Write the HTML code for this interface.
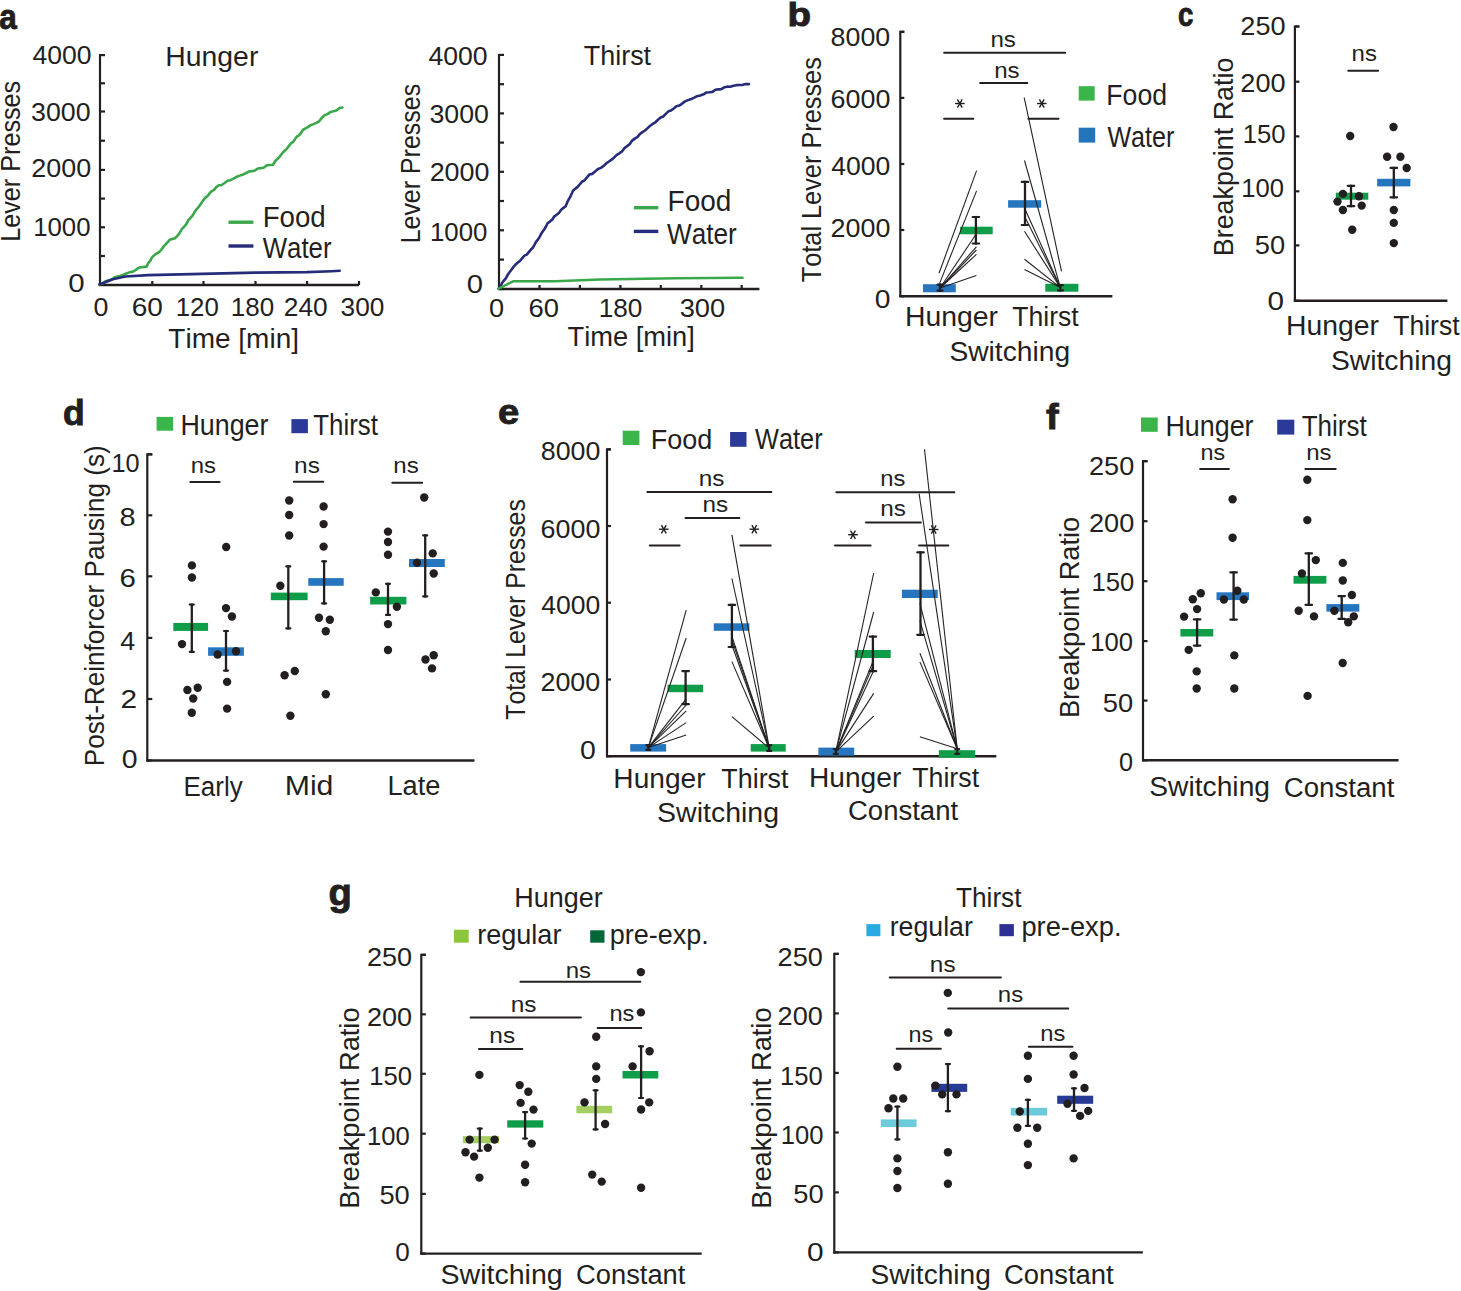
<!DOCTYPE html>
<html><head><meta charset="utf-8"><title>Figure</title>
<style>html,body{margin:0;padding:0;background:#fff;overflow:hidden;width:1461px;height:1291px;}svg{display:block;}text{font-family:"Liberation Sans",sans-serif;font-kerning:none;}</style>
</head><body>
<svg width="1461" height="1291" viewBox="0 0 1461 1291">
<rect width="1461" height="1291" fill="#fff"/>
<text x="-0.72" y="28.50" font-size="34.5" font-weight="bold" stroke="#231f20" stroke-width="0.9" fill="#231f20" textLength="17.52" lengthAdjust="spacingAndGlyphs">a</text>
<path d="M105.00,55.00 L100.00,55.00 L100.00,286.00" fill="none" stroke="#231f20" stroke-width="2.2"/>
<line x1="100.00" y1="55.10" x2="105.00" y2="55.10" stroke="#231f20" stroke-width="2.2" stroke-linecap="butt"/>
<line x1="100.00" y1="83.30" x2="105.00" y2="83.30" stroke="#231f20" stroke-width="2.2" stroke-linecap="butt"/>
<line x1="100.00" y1="111.50" x2="105.00" y2="111.50" stroke="#231f20" stroke-width="2.2" stroke-linecap="butt"/>
<line x1="100.00" y1="140.70" x2="105.00" y2="140.70" stroke="#231f20" stroke-width="2.2" stroke-linecap="butt"/>
<line x1="100.00" y1="169.90" x2="105.00" y2="169.90" stroke="#231f20" stroke-width="2.2" stroke-linecap="butt"/>
<line x1="100.00" y1="198.60" x2="105.00" y2="198.60" stroke="#231f20" stroke-width="2.2" stroke-linecap="butt"/>
<line x1="100.00" y1="227.30" x2="105.00" y2="227.30" stroke="#231f20" stroke-width="2.2" stroke-linecap="butt"/>
<line x1="100.00" y1="256.00" x2="105.00" y2="256.00" stroke="#231f20" stroke-width="2.2" stroke-linecap="butt"/>
<line x1="100.00" y1="284.70" x2="105.00" y2="284.70" stroke="#231f20" stroke-width="2.2" stroke-linecap="butt"/>
<line x1="99.00" y1="285.00" x2="359.00" y2="285.00" stroke="#231f20" stroke-width="2.4" stroke-linecap="butt"/>
<line x1="152.30" y1="285.00" x2="152.30" y2="281.00" stroke="#231f20" stroke-width="2.2" stroke-linecap="butt"/>
<line x1="203.50" y1="285.00" x2="203.50" y2="281.00" stroke="#231f20" stroke-width="2.2" stroke-linecap="butt"/>
<line x1="255.50" y1="285.00" x2="255.50" y2="281.00" stroke="#231f20" stroke-width="2.2" stroke-linecap="butt"/>
<line x1="307.10" y1="285.00" x2="307.10" y2="281.00" stroke="#231f20" stroke-width="2.2" stroke-linecap="butt"/>
<line x1="359.00" y1="285.00" x2="359.00" y2="281.00" stroke="#231f20" stroke-width="2.2" stroke-linecap="butt"/>
<text x="32.49" y="64.22" font-size="26.5" fill="#231f20" textLength="59.05" lengthAdjust="spacingAndGlyphs">4000</text>
<text x="31.08" y="120.62" font-size="26.5" fill="#231f20" textLength="59.46" lengthAdjust="spacingAndGlyphs">3000</text>
<text x="31.35" y="177.12" font-size="26.5" fill="#231f20" textLength="59.80" lengthAdjust="spacingAndGlyphs">2000</text>
<text x="33.14" y="236.42" font-size="26.5" fill="#231f20" textLength="57.37" lengthAdjust="spacingAndGlyphs">1000</text>
<text x="68.15" y="292.32" font-size="26.5" fill="#231f20" textLength="16.40" lengthAdjust="spacingAndGlyphs">0</text>
<text x="93.55" y="315.62" font-size="26.5" fill="#231f20" textLength="14.89" lengthAdjust="spacingAndGlyphs">0</text>
<text x="131.77" y="315.62" font-size="26.5" fill="#231f20" textLength="31.22" lengthAdjust="spacingAndGlyphs">60</text>
<text x="175.73" y="315.62" font-size="26.5" fill="#231f20" textLength="43.08" lengthAdjust="spacingAndGlyphs">120</text>
<text x="230.82" y="315.62" font-size="26.5" fill="#231f20" textLength="43.40" lengthAdjust="spacingAndGlyphs">180</text>
<text x="283.78" y="315.62" font-size="26.5" fill="#231f20" textLength="43.85" lengthAdjust="spacingAndGlyphs">240</text>
<text x="340.60" y="315.62" font-size="26.5" fill="#231f20" textLength="43.83" lengthAdjust="spacingAndGlyphs">300</text>
<text x="168.37" y="348.00" font-size="27" fill="#231f20" textLength="130.62" lengthAdjust="spacingAndGlyphs">Time [min]</text>
<text x="165.27" y="65.90" font-size="27" fill="#231f20" textLength="93.10" lengthAdjust="spacingAndGlyphs">Hunger</text>
<line x1="228.50" y1="222.20" x2="253.40" y2="222.20" stroke="#3aa84a" stroke-width="3.4" stroke-linecap="butt"/>
<line x1="228.50" y1="246.00" x2="253.40" y2="246.00" stroke="#262c7a" stroke-width="3.4" stroke-linecap="butt"/>
<text x="262.63" y="227.00" font-size="29" fill="#231f20" textLength="63.16" lengthAdjust="spacingAndGlyphs">Food</text>
<text x="262.69" y="258.30" font-size="29" fill="#231f20" textLength="68.84" lengthAdjust="spacingAndGlyphs">Water</text>
<text transform="translate(20.10,239.70) rotate(-90)" x="-2.07" y="0" font-size="28" fill="#231f20" textLength="160.98" lengthAdjust="spacingAndGlyphs">Lever Presses</text>
<path d="M99.40,284.50 L102.23,283.84 L105.07,281.44 L107.90,280.55 L110.73,279.92 L113.57,277.97 L116.40,276.74 L119.93,275.97 L123.47,274.76 L127.00,273.23 L129.97,272.11 L132.93,271.62 L135.90,269.86 L138.60,267.80 L141.30,267.19 L146.60,266.66 L148.40,262.92 L150.20,260.92 L152.00,257.37 L155.55,254.11 L159.10,252.23 L161.22,249.77 L163.34,246.87 L165.46,244.50 L167.58,242.36 L169.70,239.77 L175.10,238.22 L177.32,235.87 L179.55,233.20 L181.78,229.13 L184.00,226.78 L186.14,224.43 L188.28,220.34 L190.42,217.84 L192.56,215.57 L194.70,211.85 L196.82,209.01 L198.94,206.59 L201.06,203.55 L203.18,200.37 L205.30,197.65 L207.44,196.10 L209.58,193.42 L211.72,191.08 L213.86,190.07 L216.00,187.38 L218.86,185.31 L221.72,184.97 L224.58,183.00 L227.44,180.83 L230.30,180.16 L233.50,178.69 L236.70,176.81 L239.90,175.65 L243.10,174.52 L246.30,172.92 L249.19,171.52 L252.07,171.15 L254.96,170.43 L257.85,168.45 L260.74,168.12 L263.62,167.69 L266.51,165.53 L269.40,165.04 L273.00,164.71 L275.03,161.44 L277.06,159.24 L279.09,157.43 L281.11,154.82 L283.14,152.27 L285.17,150.19 L287.20,148.36 L289.18,145.57 L291.16,143.16 L293.13,141.93 L295.11,139.09 L297.09,136.38 L299.07,135.38 L301.04,132.68 L303.02,129.83 L305.00,128.58 L307.84,127.05 L310.68,125.13 L313.52,124.11 L316.36,122.92 L319.20,121.26 L321.90,117.78 L324.60,115.17 L327.57,114.10 L330.53,111.90 L333.50,111.29 L336.47,110.52 L339.43,108.06 L342.40,107.50" fill="none" stroke="#3aa84a" stroke-width="2.6" stroke-linejoin="round" stroke-linecap="round"/>
<path d="M99.40,284.50 L112.80,279.20 L125.30,276.50 L148.40,275.10 L201.80,273.90 L255.20,272.60 L306.80,272.10 L331.70,271.20 L339.70,270.80" fill="none" stroke="#262c7a" stroke-width="2.6" stroke-linejoin="round" stroke-linecap="round"/>
<path d="M504.00,55.00 L499.00,55.00 L499.00,289.50" fill="none" stroke="#231f20" stroke-width="2.2"/>
<line x1="499.00" y1="54.90" x2="504.00" y2="54.90" stroke="#231f20" stroke-width="2.2" stroke-linecap="butt"/>
<line x1="499.00" y1="84.20" x2="504.00" y2="84.20" stroke="#231f20" stroke-width="2.2" stroke-linecap="butt"/>
<line x1="499.00" y1="113.40" x2="504.00" y2="113.40" stroke="#231f20" stroke-width="2.2" stroke-linecap="butt"/>
<line x1="499.00" y1="142.60" x2="504.00" y2="142.60" stroke="#231f20" stroke-width="2.2" stroke-linecap="butt"/>
<line x1="499.00" y1="171.80" x2="504.00" y2="171.80" stroke="#231f20" stroke-width="2.2" stroke-linecap="butt"/>
<line x1="499.00" y1="201.00" x2="504.00" y2="201.00" stroke="#231f20" stroke-width="2.2" stroke-linecap="butt"/>
<line x1="499.00" y1="230.30" x2="504.00" y2="230.30" stroke="#231f20" stroke-width="2.2" stroke-linecap="butt"/>
<line x1="499.00" y1="259.60" x2="504.00" y2="259.60" stroke="#231f20" stroke-width="2.2" stroke-linecap="butt"/>
<line x1="499.00" y1="289.00" x2="504.00" y2="289.00" stroke="#231f20" stroke-width="2.2" stroke-linecap="butt"/>
<line x1="498.00" y1="289.00" x2="759.40" y2="289.00" stroke="#231f20" stroke-width="2.4" stroke-linecap="butt"/>
<line x1="539.50" y1="289.00" x2="539.50" y2="285.00" stroke="#231f20" stroke-width="2.2" stroke-linecap="butt"/>
<line x1="579.90" y1="289.00" x2="579.90" y2="285.00" stroke="#231f20" stroke-width="2.2" stroke-linecap="butt"/>
<line x1="620.40" y1="289.00" x2="620.40" y2="285.00" stroke="#231f20" stroke-width="2.2" stroke-linecap="butt"/>
<line x1="660.80" y1="289.00" x2="660.80" y2="285.00" stroke="#231f20" stroke-width="2.2" stroke-linecap="butt"/>
<line x1="701.30" y1="289.00" x2="701.30" y2="285.00" stroke="#231f20" stroke-width="2.2" stroke-linecap="butt"/>
<line x1="741.70" y1="289.00" x2="741.70" y2="285.00" stroke="#231f20" stroke-width="2.2" stroke-linecap="butt"/>
<text x="428.49" y="64.72" font-size="26.5" fill="#231f20" textLength="59.05" lengthAdjust="spacingAndGlyphs">4000</text>
<text x="429.48" y="122.52" font-size="26.5" fill="#231f20" textLength="59.46" lengthAdjust="spacingAndGlyphs">3000</text>
<text x="429.65" y="180.92" font-size="26.5" fill="#231f20" textLength="59.80" lengthAdjust="spacingAndGlyphs">2000</text>
<text x="430.04" y="241.02" font-size="26.5" fill="#231f20" textLength="57.37" lengthAdjust="spacingAndGlyphs">1000</text>
<text x="466.86" y="292.52" font-size="26.5" fill="#231f20" textLength="16.29" lengthAdjust="spacingAndGlyphs">0</text>
<text x="489.14" y="316.62" font-size="26.5" fill="#231f20" textLength="15.12" lengthAdjust="spacingAndGlyphs">0</text>
<text x="528.41" y="316.62" font-size="26.5" fill="#231f20" textLength="30.46" lengthAdjust="spacingAndGlyphs">60</text>
<text x="598.70" y="316.62" font-size="26.5" fill="#231f20" textLength="43.72" lengthAdjust="spacingAndGlyphs">180</text>
<text x="679.66" y="316.62" font-size="26.5" fill="#231f20" textLength="45.50" lengthAdjust="spacingAndGlyphs">300</text>
<text x="567.49" y="345.60" font-size="27" fill="#231f20" textLength="127.36" lengthAdjust="spacingAndGlyphs">Time [min]</text>
<text x="583.80" y="64.80" font-size="27" fill="#231f20" textLength="67.30" lengthAdjust="spacingAndGlyphs">Thirst</text>
<line x1="633.80" y1="207.70" x2="658.30" y2="207.70" stroke="#3aa84a" stroke-width="3.4" stroke-linecap="butt"/>
<line x1="633.80" y1="231.40" x2="658.30" y2="231.40" stroke="#262c7a" stroke-width="3.4" stroke-linecap="butt"/>
<text x="667.60" y="211.30" font-size="29" fill="#231f20" textLength="63.80" lengthAdjust="spacingAndGlyphs">Food</text>
<text x="667.09" y="243.80" font-size="29" fill="#231f20" textLength="69.65" lengthAdjust="spacingAndGlyphs">Water</text>
<text transform="translate(420.20,241.30) rotate(-90)" x="-2.05" y="0" font-size="28" fill="#231f20" textLength="159.45" lengthAdjust="spacingAndGlyphs">Lever Presses</text>
<path d="M498.60,288.60 L500.41,286.51 L502.23,282.68 L504.04,280.36 L505.85,278.31 L507.66,274.92 L509.48,272.26 L511.29,270.05 L513.10,267.40 L515.38,264.76 L517.65,262.58 L519.92,261.03 L522.20,258.21 L524.48,255.69 L526.75,254.62 L529.02,251.82 L531.30,249.05 L532.93,247.66 L534.56,244.71 L536.19,241.52 L537.82,239.71 L539.45,237.10 L541.08,234.05 L542.71,231.53 L544.34,229.24 L545.97,226.50 L547.60,223.22 L549.86,221.61 L552.12,219.67 L554.39,216.35 L556.65,214.73 L558.91,213.06 L561.18,209.64 L563.44,207.83 L565.70,206.23 L567.16,202.45 L568.62,199.57 L570.08,197.11 L571.54,194.03 L573.00,190.81 L575.33,188.63 L577.66,186.88 L579.99,184.02 L582.31,181.49 L584.64,180.29 L586.97,177.41 L589.30,174.61 L592.20,173.87 L595.10,171.50 L598.00,168.93 L600.90,167.86 L603.80,165.81 L606.40,163.28 L609.00,161.47 L611.60,159.68 L614.20,157.43 L616.80,154.85 L619.40,153.30 L622.00,151.40 L624.54,147.94 L627.08,146.14 L629.62,144.23 L632.16,140.60 L634.70,138.64 L637.29,137.14 L639.87,134.08 L642.46,132.10 L645.04,130.50 L647.63,128.10 L650.21,125.77 L652.80,123.91 L655.40,122.28 L658.00,119.71 L660.60,117.50 L663.20,116.48 L665.80,113.84 L668.40,111.34 L671.00,110.54 L673.72,108.46 L676.43,106.22 L679.15,105.58 L681.87,103.80 L684.58,101.64 L687.30,100.37 L690.56,99.34 L693.82,97.84 L697.08,96.20 L700.34,95.43 L703.60,94.28 L706.55,92.47 L709.50,92.24 L712.45,91.85 L715.40,89.77 L718.35,89.41 L721.30,89.18 L724.25,87.31 L727.20,86.66 L730.30,86.72 L733.40,85.81 L736.50,85.17 L739.60,85.00 L742.70,84.86 L745.80,83.95 L748.90,84.10" fill="none" stroke="#262c7a" stroke-width="2.6" stroke-linejoin="round" stroke-linecap="round"/>
<path d="M498.60,288.60 L513.10,281.30 L554.90,281.30 L600.20,279.50 L676.40,278.20 L742.60,277.70" fill="none" stroke="#3aa84a" stroke-width="2.6" stroke-linejoin="round" stroke-linecap="round"/>
<text x="787.46" y="26.00" font-size="32.7" font-weight="bold" stroke="#231f20" stroke-width="0.9" fill="#231f20" textLength="23.52" lengthAdjust="spacingAndGlyphs">b</text>
<path d="M904.30,31.80 L900.30,31.80 L900.30,297.00" fill="none" stroke="#231f20" stroke-width="2.2"/>
<line x1="900.30" y1="31.80" x2="904.30" y2="31.80" stroke="#231f20" stroke-width="2.2" stroke-linecap="butt"/>
<line x1="900.30" y1="97.90" x2="904.30" y2="97.90" stroke="#231f20" stroke-width="2.2" stroke-linecap="butt"/>
<line x1="900.30" y1="164.00" x2="904.30" y2="164.00" stroke="#231f20" stroke-width="2.2" stroke-linecap="butt"/>
<line x1="900.30" y1="230.00" x2="904.30" y2="230.00" stroke="#231f20" stroke-width="2.2" stroke-linecap="butt"/>
<line x1="900.30" y1="296.20" x2="904.30" y2="296.20" stroke="#231f20" stroke-width="2.2" stroke-linecap="butt"/>
<line x1="899.30" y1="296.20" x2="1112.40" y2="296.20" stroke="#231f20" stroke-width="2.4" stroke-linecap="butt"/>
<text x="830.64" y="45.92" font-size="26.5" fill="#231f20" textLength="59.61" lengthAdjust="spacingAndGlyphs">8000</text>
<text x="830.53" y="107.92" font-size="26.5" fill="#231f20" textLength="59.82" lengthAdjust="spacingAndGlyphs">6000</text>
<text x="831.29" y="175.32" font-size="26.5" fill="#231f20" textLength="59.05" lengthAdjust="spacingAndGlyphs">4000</text>
<text x="830.55" y="237.32" font-size="26.5" fill="#231f20" textLength="59.80" lengthAdjust="spacingAndGlyphs">2000</text>
<text x="874.70" y="308.12" font-size="26.5" fill="#231f20" textLength="15.71" lengthAdjust="spacingAndGlyphs">0</text>
<line x1="944.10" y1="52.70" x2="1065.20" y2="52.70" stroke="#231f20" stroke-width="2" stroke-linecap="round"/>
<line x1="980.10" y1="83.00" x2="1027.40" y2="83.00" stroke="#231f20" stroke-width="2" stroke-linecap="round"/>
<line x1="944.10" y1="118.80" x2="973.40" y2="118.80" stroke="#231f20" stroke-width="2" stroke-linecap="round"/>
<line x1="1028.40" y1="118.80" x2="1058.50" y2="118.80" stroke="#231f20" stroke-width="2" stroke-linecap="round"/>
<text x="990.40" y="47.00" font-size="22" fill="#231f20" textLength="25.47" lengthAdjust="spacingAndGlyphs">ns</text>
<text x="994.20" y="77.60" font-size="22" fill="#231f20" textLength="25.47" lengthAdjust="spacingAndGlyphs">ns</text>
<line x1="955.00" y1="103.50" x2="964.60" y2="103.50" stroke="#231f20" stroke-width="1.4" stroke-linecap="butt"/>
<line x1="957.40" y1="99.34" x2="962.20" y2="107.66" stroke="#231f20" stroke-width="1.4" stroke-linecap="butt"/>
<line x1="962.20" y1="99.34" x2="957.40" y2="107.66" stroke="#231f20" stroke-width="1.4" stroke-linecap="butt"/>
<line x1="1037.00" y1="103.50" x2="1046.60" y2="103.50" stroke="#231f20" stroke-width="1.4" stroke-linecap="butt"/>
<line x1="1039.40" y1="99.34" x2="1044.20" y2="107.66" stroke="#231f20" stroke-width="1.4" stroke-linecap="butt"/>
<line x1="1044.20" y1="99.34" x2="1039.40" y2="107.66" stroke="#231f20" stroke-width="1.4" stroke-linecap="butt"/>
<rect x="1078.70" y="86.20" width="16.00" height="14.40" fill="#39b54a"/>
<rect x="1078.70" y="127.70" width="16.50" height="14.90" fill="#2474bb"/>
<text x="1106.31" y="105.00" font-size="29" fill="#231f20" textLength="60.81" lengthAdjust="spacingAndGlyphs">Food</text>
<text x="1107.39" y="146.60" font-size="29" fill="#231f20" textLength="67.03" lengthAdjust="spacingAndGlyphs">Water</text>
<rect x="923.00" y="284.20" width="32.80" height="8.10" fill="#2676bf"/>
<rect x="960.10" y="226.70" width="32.60" height="7.60" fill="#0f9d4a"/>
<rect x="1008.10" y="200.20" width="33.10" height="7.50" fill="#2676bf"/>
<rect x="1045.30" y="283.80" width="33.10" height="7.90" fill="#0f9d4a"/>
<line x1="939.00" y1="273.30" x2="976.60" y2="170.60" stroke="#262223" stroke-width="1.1" stroke-linecap="butt"/>
<line x1="939.50" y1="283.60" x2="976.60" y2="190.90" stroke="#262223" stroke-width="1.1" stroke-linecap="butt"/>
<line x1="940.00" y1="288.00" x2="976.40" y2="233.80" stroke="#262223" stroke-width="1.1" stroke-linecap="butt"/>
<line x1="940.00" y1="288.00" x2="976.40" y2="246.80" stroke="#262223" stroke-width="1.1" stroke-linecap="butt"/>
<line x1="940.00" y1="288.00" x2="976.40" y2="250.00" stroke="#262223" stroke-width="1.1" stroke-linecap="butt"/>
<line x1="940.00" y1="288.00" x2="976.40" y2="254.40" stroke="#262223" stroke-width="1.1" stroke-linecap="butt"/>
<line x1="940.00" y1="288.00" x2="976.40" y2="275.50" stroke="#262223" stroke-width="1.1" stroke-linecap="butt"/>
<line x1="1024.20" y1="97.70" x2="1061.50" y2="271.40" stroke="#262223" stroke-width="1.1" stroke-linecap="butt"/>
<line x1="1024.50" y1="160.50" x2="1060.40" y2="287.60" stroke="#262223" stroke-width="1.1" stroke-linecap="butt"/>
<line x1="1024.50" y1="208.00" x2="1060.40" y2="287.60" stroke="#262223" stroke-width="1.1" stroke-linecap="butt"/>
<line x1="1024.50" y1="216.20" x2="1060.40" y2="287.60" stroke="#262223" stroke-width="1.1" stroke-linecap="butt"/>
<line x1="1024.50" y1="231.30" x2="1060.40" y2="287.60" stroke="#262223" stroke-width="1.1" stroke-linecap="butt"/>
<line x1="1024.50" y1="259.20" x2="1060.40" y2="287.60" stroke="#262223" stroke-width="1.1" stroke-linecap="butt"/>
<line x1="1024.50" y1="269.60" x2="1060.40" y2="287.60" stroke="#262223" stroke-width="1.1" stroke-linecap="butt"/>
<line x1="975.90" y1="215.90" x2="975.90" y2="244.60" stroke="#231f20" stroke-width="2.3" stroke-linecap="butt"/>
<line x1="972.65" y1="217.00" x2="979.15" y2="217.00" stroke="#231f20" stroke-width="2.2" stroke-linecap="round"/>
<line x1="972.65" y1="243.50" x2="979.15" y2="243.50" stroke="#231f20" stroke-width="2.2" stroke-linecap="round"/>
<line x1="1025.00" y1="180.80" x2="1025.00" y2="226.10" stroke="#231f20" stroke-width="2.3" stroke-linecap="butt"/>
<line x1="1021.75" y1="181.90" x2="1028.25" y2="181.90" stroke="#231f20" stroke-width="2.2" stroke-linecap="round"/>
<line x1="1021.75" y1="225.00" x2="1028.25" y2="225.00" stroke="#231f20" stroke-width="2.2" stroke-linecap="round"/>
<line x1="940.00" y1="283.60" x2="940.00" y2="291.80" stroke="#231f20" stroke-width="2.3" stroke-linecap="butt"/>
<line x1="937.50" y1="284.70" x2="942.50" y2="284.70" stroke="#231f20" stroke-width="2.2" stroke-linecap="round"/>
<line x1="937.50" y1="290.70" x2="942.50" y2="290.70" stroke="#231f20" stroke-width="2.2" stroke-linecap="round"/>
<line x1="1060.40" y1="284.00" x2="1060.40" y2="291.50" stroke="#231f20" stroke-width="2.3" stroke-linecap="butt"/>
<line x1="1057.90" y1="285.10" x2="1062.90" y2="285.10" stroke="#231f20" stroke-width="2.2" stroke-linecap="round"/>
<line x1="1057.90" y1="290.40" x2="1062.90" y2="290.40" stroke="#231f20" stroke-width="2.2" stroke-linecap="round"/>
<text x="904.97" y="325.50" font-size="27" fill="#231f20" textLength="93.10" lengthAdjust="spacingAndGlyphs">Hunger</text>
<text x="1012.30" y="325.50" font-size="27" fill="#231f20" textLength="66.39" lengthAdjust="spacingAndGlyphs">Thirst</text>
<text x="949.42" y="360.50" font-size="27" fill="#231f20" textLength="120.70" lengthAdjust="spacingAndGlyphs">Switching</text>
<text transform="translate(821.20,281.70) rotate(-90)" x="-0.57" y="0" font-size="28" fill="#231f20" textLength="225.08" lengthAdjust="spacingAndGlyphs">Total Lever Presses</text>
<text x="1177.92" y="26.20" font-size="34" font-weight="bold" stroke="#231f20" stroke-width="0.9" fill="#231f20" textLength="15.39" lengthAdjust="spacingAndGlyphs">c</text>
<path d="M1299.40,26.50 L1294.90,26.50 L1294.90,301.50" fill="none" stroke="#231f20" stroke-width="2.2"/>
<line x1="1294.90" y1="26.50" x2="1299.40" y2="26.50" stroke="#231f20" stroke-width="2.2" stroke-linecap="butt"/>
<line x1="1294.90" y1="81.70" x2="1299.40" y2="81.70" stroke="#231f20" stroke-width="2.2" stroke-linecap="butt"/>
<line x1="1294.90" y1="136.40" x2="1299.40" y2="136.40" stroke="#231f20" stroke-width="2.2" stroke-linecap="butt"/>
<line x1="1294.90" y1="191.30" x2="1299.40" y2="191.30" stroke="#231f20" stroke-width="2.2" stroke-linecap="butt"/>
<line x1="1294.90" y1="245.40" x2="1299.40" y2="245.40" stroke="#231f20" stroke-width="2.2" stroke-linecap="butt"/>
<line x1="1294.90" y1="300.80" x2="1299.40" y2="300.80" stroke="#231f20" stroke-width="2.2" stroke-linecap="butt"/>
<line x1="1293.80" y1="300.80" x2="1447.40" y2="300.80" stroke="#231f20" stroke-width="2.4" stroke-linecap="butt"/>
<text x="1240.34" y="35.02" font-size="26.5" fill="#231f20" textLength="45.22" lengthAdjust="spacingAndGlyphs">250</text>
<text x="1240.34" y="91.82" font-size="26.5" fill="#231f20" textLength="45.22" lengthAdjust="spacingAndGlyphs">200</text>
<text x="1242.75" y="142.52" font-size="26.5" fill="#231f20" textLength="42.75" lengthAdjust="spacingAndGlyphs">150</text>
<text x="1241.25" y="196.82" font-size="26.5" fill="#231f20" textLength="42.75" lengthAdjust="spacingAndGlyphs">100</text>
<text x="1254.71" y="254.02" font-size="26.5" fill="#231f20" textLength="30.36" lengthAdjust="spacingAndGlyphs">50</text>
<text x="1267.64" y="309.72" font-size="26.5" fill="#231f20" textLength="16.52" lengthAdjust="spacingAndGlyphs">0</text>
<line x1="1348.30" y1="70.70" x2="1378.10" y2="70.70" stroke="#231f20" stroke-width="2" stroke-linecap="round"/>
<text x="1351.61" y="60.70" font-size="22" fill="#231f20" textLength="25.36" lengthAdjust="spacingAndGlyphs">ns</text>
<rect x="1335.80" y="192.70" width="32.50" height="7.00" fill="#0f9d4a"/>
<rect x="1377.20" y="178.80" width="33.20" height="7.60" fill="#2676bf"/>
<line x1="1351.00" y1="184.70" x2="1351.00" y2="207.30" stroke="#231f20" stroke-width="2.3" stroke-linecap="butt"/>
<line x1="1347.75" y1="185.80" x2="1354.25" y2="185.80" stroke="#231f20" stroke-width="2.2" stroke-linecap="round"/>
<line x1="1347.75" y1="206.20" x2="1354.25" y2="206.20" stroke="#231f20" stroke-width="2.2" stroke-linecap="round"/>
<line x1="1393.80" y1="166.80" x2="1393.80" y2="198.40" stroke="#231f20" stroke-width="2.3" stroke-linecap="butt"/>
<line x1="1390.55" y1="167.90" x2="1397.05" y2="167.90" stroke="#231f20" stroke-width="2.2" stroke-linecap="round"/>
<line x1="1390.55" y1="197.30" x2="1397.05" y2="197.30" stroke="#231f20" stroke-width="2.2" stroke-linecap="round"/>
<circle cx="1350.20" cy="136.00" r="4.2" fill="#231f20"/>
<circle cx="1342.90" cy="193.90" r="4.2" fill="#231f20"/>
<circle cx="1359.00" cy="196.30" r="4.2" fill="#231f20"/>
<circle cx="1337.50" cy="201.60" r="4.2" fill="#231f20"/>
<circle cx="1361.70" cy="205.60" r="4.2" fill="#231f20"/>
<circle cx="1342.90" cy="210.00" r="4.2" fill="#231f20"/>
<circle cx="1352.20" cy="229.70" r="4.2" fill="#231f20"/>
<circle cx="1393.50" cy="127.00" r="4.2" fill="#231f20"/>
<circle cx="1387.10" cy="156.70" r="4.2" fill="#231f20"/>
<circle cx="1400.40" cy="156.70" r="4.2" fill="#231f20"/>
<circle cx="1406.70" cy="168.00" r="4.2" fill="#231f20"/>
<circle cx="1393.80" cy="210.00" r="4.2" fill="#231f20"/>
<circle cx="1393.80" cy="222.90" r="4.2" fill="#231f20"/>
<circle cx="1393.80" cy="243.10" r="4.2" fill="#231f20"/>
<text x="1286.07" y="335.00" font-size="27" fill="#231f20" textLength="93.00" lengthAdjust="spacingAndGlyphs">Hunger</text>
<text x="1393.20" y="335.00" font-size="27" fill="#231f20" textLength="66.39" lengthAdjust="spacingAndGlyphs">Thirst</text>
<text x="1330.92" y="369.90" font-size="27" fill="#231f20" textLength="121.01" lengthAdjust="spacingAndGlyphs">Switching</text>
<text transform="translate(1233.10,254.00) rotate(-90)" x="-2.20" y="0" font-size="28" fill="#231f20" textLength="198.53" lengthAdjust="spacingAndGlyphs">Breakpoint Ratio</text>
<text x="63.14" y="425.00" font-size="34.3" font-weight="bold" stroke="#231f20" stroke-width="0.9" fill="#231f20" textLength="21.70" lengthAdjust="spacingAndGlyphs">d</text>
<rect x="156.60" y="416.90" width="16.60" height="13.80" fill="#39b54a"/>
<text x="180.40" y="434.80" font-size="29" fill="#231f20" textLength="88.05" lengthAdjust="spacingAndGlyphs">Hunger</text>
<rect x="291.40" y="419.10" width="16.50" height="14.10" fill="#2b3a98"/>
<text x="313.32" y="434.90" font-size="29" fill="#231f20" textLength="64.67" lengthAdjust="spacingAndGlyphs">Thirst</text>
<path d="M152.30,454.30 L147.30,454.30 L147.30,761.50" fill="none" stroke="#231f20" stroke-width="2.2"/>
<line x1="147.30" y1="454.30" x2="152.30" y2="454.30" stroke="#231f20" stroke-width="2.2" stroke-linecap="butt"/>
<line x1="147.30" y1="515.30" x2="152.30" y2="515.30" stroke="#231f20" stroke-width="2.2" stroke-linecap="butt"/>
<line x1="147.30" y1="576.30" x2="152.30" y2="576.30" stroke="#231f20" stroke-width="2.2" stroke-linecap="butt"/>
<line x1="147.30" y1="637.90" x2="152.30" y2="637.90" stroke="#231f20" stroke-width="2.2" stroke-linecap="butt"/>
<line x1="147.30" y1="699.00" x2="152.30" y2="699.00" stroke="#231f20" stroke-width="2.2" stroke-linecap="butt"/>
<line x1="147.30" y1="760.50" x2="152.30" y2="760.50" stroke="#231f20" stroke-width="2.2" stroke-linecap="butt"/>
<line x1="146.30" y1="760.50" x2="474.50" y2="760.50" stroke="#231f20" stroke-width="2.4" stroke-linecap="butt"/>
<text x="111.57" y="471.92" font-size="26.5" fill="#231f20" textLength="28.11" lengthAdjust="spacingAndGlyphs">10</text>
<text x="119.64" y="526.42" font-size="26.5" fill="#231f20" textLength="16.12" lengthAdjust="spacingAndGlyphs">8</text>
<text x="119.40" y="586.62" font-size="26.5" fill="#231f20" textLength="16.39" lengthAdjust="spacingAndGlyphs">6</text>
<text x="120.28" y="650.12" font-size="26.5" fill="#231f20" textLength="15.01" lengthAdjust="spacingAndGlyphs">4</text>
<text x="120.40" y="707.52" font-size="26.5" fill="#231f20" textLength="16.60" lengthAdjust="spacingAndGlyphs">2</text>
<text x="121.79" y="767.62" font-size="26.5" fill="#231f20" textLength="15.82" lengthAdjust="spacingAndGlyphs">0</text>
<line x1="190.30" y1="482.00" x2="219.60" y2="482.00" stroke="#231f20" stroke-width="2" stroke-linecap="round"/>
<line x1="293.80" y1="481.80" x2="323.30" y2="481.80" stroke="#231f20" stroke-width="2" stroke-linecap="round"/>
<line x1="392.30" y1="482.70" x2="422.10" y2="482.70" stroke="#231f20" stroke-width="2" stroke-linecap="round"/>
<text x="190.81" y="473.00" font-size="22" fill="#231f20" textLength="25.25" lengthAdjust="spacingAndGlyphs">ns</text>
<text x="294.08" y="472.90" font-size="22" fill="#231f20" textLength="25.81" lengthAdjust="spacingAndGlyphs">ns</text>
<text x="393.30" y="472.90" font-size="22" fill="#231f20" textLength="25.47" lengthAdjust="spacingAndGlyphs">ns</text>
<rect x="173.30" y="622.90" width="34.80" height="8.00" fill="#0f9d4a"/>
<rect x="208.10" y="647.30" width="35.80" height="8.50" fill="#2676bf"/>
<rect x="270.80" y="592.60" width="36.80" height="7.60" fill="#0f9d4a"/>
<rect x="308.30" y="578.10" width="35.40" height="7.70" fill="#2676bf"/>
<rect x="370.10" y="596.80" width="36.30" height="7.70" fill="#0f9d4a"/>
<rect x="409.00" y="559.00" width="35.80" height="8.00" fill="#2676bf"/>
<line x1="191.80" y1="603.50" x2="191.80" y2="653.00" stroke="#231f20" stroke-width="2.3" stroke-linecap="butt"/>
<line x1="189.80" y1="604.60" x2="193.80" y2="604.60" stroke="#231f20" stroke-width="2.2" stroke-linecap="round"/>
<line x1="189.80" y1="651.90" x2="193.80" y2="651.90" stroke="#231f20" stroke-width="2.2" stroke-linecap="round"/>
<line x1="226.00" y1="629.90" x2="226.00" y2="671.70" stroke="#231f20" stroke-width="2.3" stroke-linecap="butt"/>
<line x1="224.00" y1="631.00" x2="228.00" y2="631.00" stroke="#231f20" stroke-width="2.2" stroke-linecap="round"/>
<line x1="224.00" y1="670.60" x2="228.00" y2="670.60" stroke="#231f20" stroke-width="2.2" stroke-linecap="round"/>
<line x1="288.30" y1="565.30" x2="288.30" y2="629.50" stroke="#231f20" stroke-width="2.3" stroke-linecap="butt"/>
<line x1="286.30" y1="566.40" x2="290.30" y2="566.40" stroke="#231f20" stroke-width="2.2" stroke-linecap="round"/>
<line x1="286.30" y1="628.40" x2="290.30" y2="628.40" stroke="#231f20" stroke-width="2.2" stroke-linecap="round"/>
<line x1="324.10" y1="560.20" x2="324.10" y2="604.50" stroke="#231f20" stroke-width="2.3" stroke-linecap="butt"/>
<line x1="322.10" y1="561.30" x2="326.10" y2="561.30" stroke="#231f20" stroke-width="2.2" stroke-linecap="round"/>
<line x1="322.10" y1="603.40" x2="326.10" y2="603.40" stroke="#231f20" stroke-width="2.2" stroke-linecap="round"/>
<line x1="388.00" y1="582.70" x2="388.00" y2="616.00" stroke="#231f20" stroke-width="2.3" stroke-linecap="butt"/>
<line x1="386.00" y1="583.80" x2="390.00" y2="583.80" stroke="#231f20" stroke-width="2.2" stroke-linecap="round"/>
<line x1="386.00" y1="614.90" x2="390.00" y2="614.90" stroke="#231f20" stroke-width="2.2" stroke-linecap="round"/>
<line x1="425.20" y1="534.30" x2="425.20" y2="597.50" stroke="#231f20" stroke-width="2.3" stroke-linecap="butt"/>
<line x1="423.20" y1="535.40" x2="427.20" y2="535.40" stroke="#231f20" stroke-width="2.2" stroke-linecap="round"/>
<line x1="423.20" y1="596.40" x2="427.20" y2="596.40" stroke="#231f20" stroke-width="2.2" stroke-linecap="round"/>
<circle cx="191.90" cy="565.40" r="4.2" fill="#231f20"/>
<circle cx="191.90" cy="577.50" r="4.2" fill="#231f20"/>
<circle cx="182.00" cy="644.10" r="4.2" fill="#231f20"/>
<circle cx="187.40" cy="690.00" r="4.2" fill="#231f20"/>
<circle cx="197.70" cy="687.80" r="4.2" fill="#231f20"/>
<circle cx="193.20" cy="698.50" r="4.2" fill="#231f20"/>
<circle cx="191.80" cy="712.70" r="4.2" fill="#231f20"/>
<circle cx="226.20" cy="547.00" r="4.2" fill="#231f20"/>
<circle cx="226.00" cy="608.10" r="4.2" fill="#231f20"/>
<circle cx="231.90" cy="616.50" r="4.2" fill="#231f20"/>
<circle cx="217.60" cy="654.50" r="4.2" fill="#231f20"/>
<circle cx="236.00" cy="651.30" r="4.2" fill="#231f20"/>
<circle cx="227.10" cy="681.90" r="4.2" fill="#231f20"/>
<circle cx="227.10" cy="708.60" r="4.2" fill="#231f20"/>
<circle cx="289.20" cy="500.50" r="4.2" fill="#231f20"/>
<circle cx="289.20" cy="515.00" r="4.2" fill="#231f20"/>
<circle cx="289.20" cy="535.50" r="4.2" fill="#231f20"/>
<circle cx="280.30" cy="585.80" r="4.2" fill="#231f20"/>
<circle cx="284.60" cy="675.20" r="4.2" fill="#231f20"/>
<circle cx="294.80" cy="671.00" r="4.2" fill="#231f20"/>
<circle cx="290.40" cy="715.80" r="4.2" fill="#231f20"/>
<circle cx="323.60" cy="506.50" r="4.2" fill="#231f20"/>
<circle cx="323.60" cy="524.10" r="4.2" fill="#231f20"/>
<circle cx="323.60" cy="546.60" r="4.2" fill="#231f20"/>
<circle cx="319.00" cy="617.80" r="4.2" fill="#231f20"/>
<circle cx="329.80" cy="619.80" r="4.2" fill="#231f20"/>
<circle cx="325.80" cy="631.20" r="4.2" fill="#231f20"/>
<circle cx="325.80" cy="694.30" r="4.2" fill="#231f20"/>
<circle cx="388.00" cy="531.60" r="4.2" fill="#231f20"/>
<circle cx="388.00" cy="542.00" r="4.2" fill="#231f20"/>
<circle cx="388.00" cy="554.70" r="4.2" fill="#231f20"/>
<circle cx="375.80" cy="592.40" r="4.2" fill="#231f20"/>
<circle cx="396.90" cy="606.70" r="4.2" fill="#231f20"/>
<circle cx="388.00" cy="624.10" r="4.2" fill="#231f20"/>
<circle cx="388.00" cy="650.00" r="4.2" fill="#231f20"/>
<circle cx="424.20" cy="497.50" r="4.2" fill="#231f20"/>
<circle cx="432.70" cy="553.40" r="4.2" fill="#231f20"/>
<circle cx="417.00" cy="562.70" r="4.2" fill="#231f20"/>
<circle cx="433.70" cy="573.50" r="4.2" fill="#231f20"/>
<circle cx="433.70" cy="655.30" r="4.2" fill="#231f20"/>
<circle cx="425.50" cy="659.50" r="4.2" fill="#231f20"/>
<circle cx="432.00" cy="668.40" r="4.2" fill="#231f20"/>
<text x="183.47" y="795.50" font-size="27" fill="#231f20" textLength="59.18" lengthAdjust="spacingAndGlyphs">Early</text>
<text x="284.72" y="795.40" font-size="27" fill="#231f20" textLength="48.73" lengthAdjust="spacingAndGlyphs">Mid</text>
<text x="387.47" y="795.40" font-size="27" fill="#231f20" textLength="52.94" lengthAdjust="spacingAndGlyphs">Late</text>
<text transform="translate(103.90,764.00) rotate(-90)" x="-2.14" y="0" font-size="28" fill="#231f20" textLength="320.76" lengthAdjust="spacingAndGlyphs">Post-Reinforcer Pausing (s)</text>
<text x="497.91" y="424.10" font-size="34.5" font-weight="bold" stroke="#231f20" stroke-width="0.9" fill="#231f20" textLength="21.19" lengthAdjust="spacingAndGlyphs">e</text>
<rect x="622.70" y="430.70" width="16.70" height="14.30" fill="#39b54a"/>
<text x="650.78" y="449.30" font-size="28" fill="#231f20" textLength="61.56" lengthAdjust="spacingAndGlyphs">Food</text>
<rect x="730.10" y="432.00" width="16.40" height="14.80" fill="#2b3a98"/>
<text x="755.09" y="449.30" font-size="29" fill="#231f20" textLength="67.53" lengthAdjust="spacingAndGlyphs">Water</text>
<path d="M611.00,449.30 L607.00,449.30 L607.00,757.20" fill="none" stroke="#231f20" stroke-width="2.2"/>
<line x1="607.00" y1="449.30" x2="611.00" y2="449.30" stroke="#231f20" stroke-width="2.2" stroke-linecap="butt"/>
<line x1="607.00" y1="526.00" x2="611.00" y2="526.00" stroke="#231f20" stroke-width="2.2" stroke-linecap="butt"/>
<line x1="607.00" y1="602.70" x2="611.00" y2="602.70" stroke="#231f20" stroke-width="2.2" stroke-linecap="butt"/>
<line x1="607.00" y1="679.50" x2="611.00" y2="679.50" stroke="#231f20" stroke-width="2.2" stroke-linecap="butt"/>
<line x1="607.00" y1="756.20" x2="611.00" y2="756.20" stroke="#231f20" stroke-width="2.2" stroke-linecap="butt"/>
<line x1="606.00" y1="756.20" x2="996.30" y2="756.20" stroke="#231f20" stroke-width="2.4" stroke-linecap="butt"/>
<text x="540.74" y="460.22" font-size="26.5" fill="#231f20" textLength="59.61" lengthAdjust="spacingAndGlyphs">8000</text>
<text x="540.53" y="538.12" font-size="26.5" fill="#231f20" textLength="59.82" lengthAdjust="spacingAndGlyphs">6000</text>
<text x="541.29" y="614.02" font-size="26.5" fill="#231f20" textLength="59.05" lengthAdjust="spacingAndGlyphs">4000</text>
<text x="540.45" y="690.72" font-size="26.5" fill="#231f20" textLength="59.80" lengthAdjust="spacingAndGlyphs">2000</text>
<text x="579.99" y="759.42" font-size="26.5" fill="#231f20" textLength="15.82" lengthAdjust="spacingAndGlyphs">0</text>
<line x1="647.40" y1="492.00" x2="771.40" y2="492.00" stroke="#231f20" stroke-width="2" stroke-linecap="round"/>
<line x1="685.50" y1="518.00" x2="739.40" y2="518.00" stroke="#231f20" stroke-width="2" stroke-linecap="round"/>
<line x1="649.80" y1="545.40" x2="679.60" y2="545.40" stroke="#231f20" stroke-width="2" stroke-linecap="round"/>
<line x1="740.40" y1="545.40" x2="770.70" y2="545.40" stroke="#231f20" stroke-width="2" stroke-linecap="round"/>
<text x="698.78" y="485.90" font-size="22" fill="#231f20" textLength="25.69" lengthAdjust="spacingAndGlyphs">ns</text>
<text x="702.48" y="511.50" font-size="22" fill="#231f20" textLength="25.69" lengthAdjust="spacingAndGlyphs">ns</text>
<line x1="659.00" y1="529.20" x2="668.60" y2="529.20" stroke="#231f20" stroke-width="1.4" stroke-linecap="butt"/>
<line x1="661.40" y1="525.04" x2="666.20" y2="533.36" stroke="#231f20" stroke-width="1.4" stroke-linecap="butt"/>
<line x1="666.20" y1="525.04" x2="661.40" y2="533.36" stroke="#231f20" stroke-width="1.4" stroke-linecap="butt"/>
<line x1="749.50" y1="529.20" x2="759.10" y2="529.20" stroke="#231f20" stroke-width="1.4" stroke-linecap="butt"/>
<line x1="751.90" y1="525.04" x2="756.70" y2="533.36" stroke="#231f20" stroke-width="1.4" stroke-linecap="butt"/>
<line x1="756.70" y1="525.04" x2="751.90" y2="533.36" stroke="#231f20" stroke-width="1.4" stroke-linecap="butt"/>
<line x1="836.30" y1="492.20" x2="954.30" y2="492.20" stroke="#231f20" stroke-width="2" stroke-linecap="round"/>
<line x1="866.00" y1="522.40" x2="920.80" y2="522.40" stroke="#231f20" stroke-width="2" stroke-linecap="round"/>
<line x1="835.00" y1="545.60" x2="870.60" y2="545.60" stroke="#231f20" stroke-width="2" stroke-linecap="round"/>
<line x1="919.10" y1="545.60" x2="948.40" y2="545.60" stroke="#231f20" stroke-width="2" stroke-linecap="round"/>
<text x="880.22" y="485.90" font-size="22" fill="#231f20" textLength="25.14" lengthAdjust="spacingAndGlyphs">ns</text>
<text x="880.18" y="515.50" font-size="22" fill="#231f20" textLength="25.69" lengthAdjust="spacingAndGlyphs">ns</text>
<line x1="848.20" y1="534.70" x2="857.80" y2="534.70" stroke="#231f20" stroke-width="1.4" stroke-linecap="butt"/>
<line x1="850.60" y1="530.54" x2="855.40" y2="538.86" stroke="#231f20" stroke-width="1.4" stroke-linecap="butt"/>
<line x1="855.40" y1="530.54" x2="850.60" y2="538.86" stroke="#231f20" stroke-width="1.4" stroke-linecap="butt"/>
<line x1="928.90" y1="529.50" x2="938.50" y2="529.50" stroke="#231f20" stroke-width="1.4" stroke-linecap="butt"/>
<line x1="931.30" y1="525.34" x2="936.10" y2="533.66" stroke="#231f20" stroke-width="1.4" stroke-linecap="butt"/>
<line x1="936.10" y1="525.34" x2="931.30" y2="533.66" stroke="#231f20" stroke-width="1.4" stroke-linecap="butt"/>
<rect x="630.20" y="744.10" width="35.90" height="7.50" fill="#2676bf"/>
<rect x="667.50" y="684.70" width="35.60" height="7.50" fill="#0f9d4a"/>
<rect x="713.80" y="623.30" width="35.60" height="7.50" fill="#2676bf"/>
<rect x="750.70" y="744.10" width="35.00" height="7.50" fill="#0f9d4a"/>
<line x1="648.30" y1="747.60" x2="686.20" y2="610.20" stroke="#262223" stroke-width="1.1" stroke-linecap="butt"/>
<line x1="648.30" y1="747.60" x2="686.20" y2="638.00" stroke="#262223" stroke-width="1.1" stroke-linecap="butt"/>
<line x1="648.30" y1="747.60" x2="686.20" y2="698.80" stroke="#262223" stroke-width="1.1" stroke-linecap="butt"/>
<line x1="648.30" y1="747.60" x2="686.20" y2="705.00" stroke="#262223" stroke-width="1.1" stroke-linecap="butt"/>
<line x1="648.30" y1="747.60" x2="686.20" y2="710.90" stroke="#262223" stroke-width="1.1" stroke-linecap="butt"/>
<line x1="648.30" y1="747.60" x2="686.20" y2="722.60" stroke="#262223" stroke-width="1.1" stroke-linecap="butt"/>
<line x1="648.30" y1="747.60" x2="686.20" y2="735.10" stroke="#262223" stroke-width="1.1" stroke-linecap="butt"/>
<line x1="731.90" y1="534.80" x2="769.20" y2="748.20" stroke="#262223" stroke-width="1.1" stroke-linecap="butt"/>
<line x1="731.90" y1="578.50" x2="769.20" y2="748.20" stroke="#262223" stroke-width="1.1" stroke-linecap="butt"/>
<line x1="731.90" y1="636.40" x2="769.20" y2="748.20" stroke="#262223" stroke-width="1.1" stroke-linecap="butt"/>
<line x1="731.90" y1="640.00" x2="769.20" y2="748.20" stroke="#262223" stroke-width="1.1" stroke-linecap="butt"/>
<line x1="731.90" y1="645.00" x2="769.20" y2="748.20" stroke="#262223" stroke-width="1.1" stroke-linecap="butt"/>
<line x1="731.90" y1="661.60" x2="769.20" y2="748.20" stroke="#262223" stroke-width="1.1" stroke-linecap="butt"/>
<line x1="731.90" y1="716.60" x2="769.20" y2="748.20" stroke="#262223" stroke-width="1.1" stroke-linecap="butt"/>
<line x1="685.60" y1="670.00" x2="685.60" y2="705.30" stroke="#231f20" stroke-width="2.3" stroke-linecap="butt"/>
<line x1="682.35" y1="671.10" x2="688.85" y2="671.10" stroke="#231f20" stroke-width="2.2" stroke-linecap="round"/>
<line x1="682.35" y1="704.20" x2="688.85" y2="704.20" stroke="#231f20" stroke-width="2.2" stroke-linecap="round"/>
<line x1="731.90" y1="603.80" x2="731.90" y2="648.10" stroke="#231f20" stroke-width="2.3" stroke-linecap="butt"/>
<line x1="728.65" y1="604.90" x2="735.15" y2="604.90" stroke="#231f20" stroke-width="2.2" stroke-linecap="round"/>
<line x1="728.65" y1="647.00" x2="735.15" y2="647.00" stroke="#231f20" stroke-width="2.2" stroke-linecap="round"/>
<line x1="648.30" y1="744.00" x2="648.30" y2="751.00" stroke="#231f20" stroke-width="2.3" stroke-linecap="butt"/>
<line x1="646.30" y1="745.10" x2="650.30" y2="745.10" stroke="#231f20" stroke-width="2.2" stroke-linecap="round"/>
<line x1="646.30" y1="749.90" x2="650.30" y2="749.90" stroke="#231f20" stroke-width="2.2" stroke-linecap="round"/>
<line x1="769.20" y1="744.00" x2="769.20" y2="752.00" stroke="#231f20" stroke-width="2.3" stroke-linecap="butt"/>
<line x1="767.20" y1="745.10" x2="771.20" y2="745.10" stroke="#231f20" stroke-width="2.2" stroke-linecap="round"/>
<line x1="767.20" y1="750.90" x2="771.20" y2="750.90" stroke="#231f20" stroke-width="2.2" stroke-linecap="round"/>
<rect x="818.40" y="747.60" width="35.80" height="8.00" fill="#2676bf"/>
<rect x="854.70" y="650.00" width="36.00" height="8.00" fill="#0f9d4a"/>
<rect x="901.90" y="589.70" width="35.80" height="8.30" fill="#2676bf"/>
<rect x="938.80" y="750.20" width="36.40" height="7.60" fill="#0f9d4a"/>
<line x1="835.80" y1="751.90" x2="873.70" y2="573.00" stroke="#262223" stroke-width="1.1" stroke-linecap="butt"/>
<line x1="835.80" y1="751.90" x2="873.70" y2="612.00" stroke="#262223" stroke-width="1.1" stroke-linecap="butt"/>
<line x1="835.80" y1="751.90" x2="873.70" y2="659.80" stroke="#262223" stroke-width="1.1" stroke-linecap="butt"/>
<line x1="835.80" y1="751.90" x2="873.70" y2="664.10" stroke="#262223" stroke-width="1.1" stroke-linecap="butt"/>
<line x1="835.80" y1="751.90" x2="873.70" y2="670.60" stroke="#262223" stroke-width="1.1" stroke-linecap="butt"/>
<line x1="835.80" y1="751.90" x2="873.70" y2="693.40" stroke="#262223" stroke-width="1.1" stroke-linecap="butt"/>
<line x1="835.80" y1="751.90" x2="873.70" y2="716.10" stroke="#262223" stroke-width="1.1" stroke-linecap="butt"/>
<line x1="924.50" y1="449.30" x2="957.20" y2="748.70" stroke="#262223" stroke-width="1.1" stroke-linecap="butt"/>
<line x1="919.10" y1="493.70" x2="957.20" y2="748.70" stroke="#262223" stroke-width="1.1" stroke-linecap="butt"/>
<line x1="919.90" y1="603.40" x2="957.20" y2="748.70" stroke="#262223" stroke-width="1.1" stroke-linecap="butt"/>
<line x1="919.90" y1="620.70" x2="957.20" y2="748.70" stroke="#262223" stroke-width="1.1" stroke-linecap="butt"/>
<line x1="919.90" y1="653.30" x2="957.20" y2="748.70" stroke="#262223" stroke-width="1.1" stroke-linecap="butt"/>
<line x1="919.90" y1="661.90" x2="957.20" y2="748.70" stroke="#262223" stroke-width="1.1" stroke-linecap="butt"/>
<line x1="919.90" y1="736.70" x2="957.20" y2="748.70" stroke="#262223" stroke-width="1.1" stroke-linecap="butt"/>
<line x1="872.90" y1="635.50" x2="872.90" y2="672.30" stroke="#231f20" stroke-width="2.3" stroke-linecap="butt"/>
<line x1="869.65" y1="636.60" x2="876.15" y2="636.60" stroke="#231f20" stroke-width="2.2" stroke-linecap="round"/>
<line x1="869.65" y1="671.20" x2="876.15" y2="671.20" stroke="#231f20" stroke-width="2.2" stroke-linecap="round"/>
<line x1="920.50" y1="551.20" x2="920.50" y2="635.90" stroke="#231f20" stroke-width="2.3" stroke-linecap="butt"/>
<line x1="917.25" y1="552.30" x2="923.75" y2="552.30" stroke="#231f20" stroke-width="2.2" stroke-linecap="round"/>
<line x1="917.25" y1="634.80" x2="923.75" y2="634.80" stroke="#231f20" stroke-width="2.2" stroke-linecap="round"/>
<line x1="835.80" y1="748.00" x2="835.80" y2="755.00" stroke="#231f20" stroke-width="2.3" stroke-linecap="butt"/>
<line x1="833.80" y1="749.10" x2="837.80" y2="749.10" stroke="#231f20" stroke-width="2.2" stroke-linecap="round"/>
<line x1="833.80" y1="753.90" x2="837.80" y2="753.90" stroke="#231f20" stroke-width="2.2" stroke-linecap="round"/>
<line x1="957.20" y1="748.00" x2="957.20" y2="755.00" stroke="#231f20" stroke-width="2.3" stroke-linecap="butt"/>
<line x1="955.20" y1="749.10" x2="959.20" y2="749.10" stroke="#231f20" stroke-width="2.2" stroke-linecap="round"/>
<line x1="955.20" y1="753.90" x2="959.20" y2="753.90" stroke="#231f20" stroke-width="2.2" stroke-linecap="round"/>
<text x="613.39" y="787.50" font-size="27" fill="#231f20" textLength="92.17" lengthAdjust="spacingAndGlyphs">Hunger</text>
<text x="721.30" y="787.50" font-size="27" fill="#231f20" textLength="67.20" lengthAdjust="spacingAndGlyphs">Thirst</text>
<text x="657.11" y="821.70" font-size="27" fill="#231f20" textLength="121.93" lengthAdjust="spacingAndGlyphs">Switching</text>
<text x="808.99" y="786.60" font-size="27" fill="#231f20" textLength="92.27" lengthAdjust="spacingAndGlyphs">Hunger</text>
<text x="912.20" y="786.60" font-size="27" fill="#231f20" textLength="66.90" lengthAdjust="spacingAndGlyphs">Thirst</text>
<text x="848.00" y="820.20" font-size="27" fill="#231f20" textLength="110.10" lengthAdjust="spacingAndGlyphs">Constant</text>
<text transform="translate(525.40,719.20) rotate(-90)" x="-0.56" y="0" font-size="28" fill="#231f20" textLength="220.55" lengthAdjust="spacingAndGlyphs">Total Lever Presses</text>
<text x="1046.05" y="429.00" font-size="35.9" font-weight="bold" stroke="#231f20" stroke-width="0.9" fill="#231f20" textLength="12.68" lengthAdjust="spacingAndGlyphs">f</text>
<rect x="1141.00" y="417.50" width="16.70" height="14.30" fill="#39b54a"/>
<text x="1165.40" y="435.50" font-size="29" fill="#231f20" textLength="88.15" lengthAdjust="spacingAndGlyphs">Hunger</text>
<rect x="1277.20" y="419.70" width="17.10" height="14.90" fill="#2b3a98"/>
<text x="1301.72" y="435.50" font-size="29" fill="#231f20" textLength="64.87" lengthAdjust="spacingAndGlyphs">Thirst</text>
<path d="M1147.50,461.20 L1143.00,461.20 L1143.00,761.30" fill="none" stroke="#231f20" stroke-width="2.2"/>
<line x1="1143.00" y1="461.20" x2="1147.50" y2="461.20" stroke="#231f20" stroke-width="2.2" stroke-linecap="butt"/>
<line x1="1143.00" y1="521.20" x2="1147.50" y2="521.20" stroke="#231f20" stroke-width="2.2" stroke-linecap="butt"/>
<line x1="1143.00" y1="581.20" x2="1147.50" y2="581.20" stroke="#231f20" stroke-width="2.2" stroke-linecap="butt"/>
<line x1="1143.00" y1="641.10" x2="1147.50" y2="641.10" stroke="#231f20" stroke-width="2.2" stroke-linecap="butt"/>
<line x1="1143.00" y1="700.60" x2="1147.50" y2="700.60" stroke="#231f20" stroke-width="2.2" stroke-linecap="butt"/>
<line x1="1143.00" y1="760.30" x2="1147.50" y2="760.30" stroke="#231f20" stroke-width="2.2" stroke-linecap="butt"/>
<line x1="1142.00" y1="760.30" x2="1398.50" y2="760.30" stroke="#231f20" stroke-width="2.4" stroke-linecap="butt"/>
<text x="1089.04" y="475.32" font-size="26.5" fill="#231f20" textLength="45.22" lengthAdjust="spacingAndGlyphs">250</text>
<text x="1089.04" y="532.02" font-size="26.5" fill="#231f20" textLength="45.22" lengthAdjust="spacingAndGlyphs">200</text>
<text x="1091.45" y="591.12" font-size="26.5" fill="#231f20" textLength="42.75" lengthAdjust="spacingAndGlyphs">150</text>
<text x="1090.25" y="651.12" font-size="26.5" fill="#231f20" textLength="42.75" lengthAdjust="spacingAndGlyphs">100</text>
<text x="1102.71" y="712.12" font-size="26.5" fill="#231f20" textLength="30.36" lengthAdjust="spacingAndGlyphs">50</text>
<text x="1118.91" y="770.62" font-size="26.5" fill="#231f20" textLength="14.08" lengthAdjust="spacingAndGlyphs">0</text>
<line x1="1200.10" y1="469.00" x2="1228.90" y2="469.00" stroke="#231f20" stroke-width="2" stroke-linecap="round"/>
<line x1="1305.40" y1="469.00" x2="1335.70" y2="469.00" stroke="#231f20" stroke-width="2" stroke-linecap="round"/>
<text x="1200.45" y="459.70" font-size="22" fill="#231f20" textLength="24.70" lengthAdjust="spacingAndGlyphs">ns</text>
<text x="1306.21" y="459.70" font-size="22" fill="#231f20" textLength="25.36" lengthAdjust="spacingAndGlyphs">ns</text>
<rect x="1180.40" y="629.00" width="32.90" height="7.50" fill="#0f9d4a"/>
<rect x="1216.50" y="592.30" width="32.50" height="7.80" fill="#2676bf"/>
<rect x="1293.50" y="575.90" width="32.90" height="7.80" fill="#0f9d4a"/>
<rect x="1326.40" y="604.10" width="32.90" height="7.50" fill="#2676bf"/>
<line x1="1197.10" y1="618.30" x2="1197.10" y2="646.70" stroke="#231f20" stroke-width="2.3" stroke-linecap="butt"/>
<line x1="1193.85" y1="619.40" x2="1200.35" y2="619.40" stroke="#231f20" stroke-width="2.2" stroke-linecap="round"/>
<line x1="1193.85" y1="645.60" x2="1200.35" y2="645.60" stroke="#231f20" stroke-width="2.2" stroke-linecap="round"/>
<line x1="1233.60" y1="571.30" x2="1233.60" y2="620.70" stroke="#231f20" stroke-width="2.3" stroke-linecap="butt"/>
<line x1="1230.35" y1="572.40" x2="1236.85" y2="572.40" stroke="#231f20" stroke-width="2.2" stroke-linecap="round"/>
<line x1="1230.35" y1="619.60" x2="1236.85" y2="619.60" stroke="#231f20" stroke-width="2.2" stroke-linecap="round"/>
<line x1="1308.80" y1="552.30" x2="1308.80" y2="606.00" stroke="#231f20" stroke-width="2.3" stroke-linecap="butt"/>
<line x1="1305.55" y1="553.40" x2="1312.05" y2="553.40" stroke="#231f20" stroke-width="2.2" stroke-linecap="round"/>
<line x1="1305.55" y1="604.90" x2="1312.05" y2="604.90" stroke="#231f20" stroke-width="2.2" stroke-linecap="round"/>
<line x1="1341.70" y1="595.00" x2="1341.70" y2="619.90" stroke="#231f20" stroke-width="2.3" stroke-linecap="butt"/>
<line x1="1338.45" y1="596.10" x2="1344.95" y2="596.10" stroke="#231f20" stroke-width="2.2" stroke-linecap="round"/>
<line x1="1338.45" y1="618.80" x2="1344.95" y2="618.80" stroke="#231f20" stroke-width="2.2" stroke-linecap="round"/>
<circle cx="1184.10" cy="616.60" r="4.2" fill="#231f20"/>
<circle cx="1192.80" cy="599.30" r="4.2" fill="#231f20"/>
<circle cx="1200.80" cy="593.30" r="4.2" fill="#231f20"/>
<circle cx="1197.10" cy="609.10" r="4.2" fill="#231f20"/>
<circle cx="1188.70" cy="649.90" r="4.2" fill="#231f20"/>
<circle cx="1196.70" cy="671.40" r="4.2" fill="#231f20"/>
<circle cx="1196.70" cy="688.50" r="4.2" fill="#231f20"/>
<circle cx="1232.60" cy="499.30" r="4.2" fill="#231f20"/>
<circle cx="1232.60" cy="537.80" r="4.2" fill="#231f20"/>
<circle cx="1237.30" cy="590.80" r="4.2" fill="#231f20"/>
<circle cx="1223.90" cy="599.50" r="4.2" fill="#231f20"/>
<circle cx="1243.80" cy="599.50" r="4.2" fill="#231f20"/>
<circle cx="1234.30" cy="655.40" r="4.2" fill="#231f20"/>
<circle cx="1234.30" cy="688.50" r="4.2" fill="#231f20"/>
<circle cx="1307.30" cy="479.80" r="4.2" fill="#231f20"/>
<circle cx="1307.30" cy="520.10" r="4.2" fill="#231f20"/>
<circle cx="1315.80" cy="560.10" r="4.2" fill="#231f20"/>
<circle cx="1301.90" cy="573.50" r="4.2" fill="#231f20"/>
<circle cx="1298.70" cy="610.80" r="4.2" fill="#231f20"/>
<circle cx="1314.00" cy="616.40" r="4.2" fill="#231f20"/>
<circle cx="1307.60" cy="695.90" r="4.2" fill="#231f20"/>
<circle cx="1342.80" cy="562.90" r="4.2" fill="#231f20"/>
<circle cx="1342.80" cy="580.50" r="4.2" fill="#231f20"/>
<circle cx="1351.90" cy="595.00" r="4.2" fill="#231f20"/>
<circle cx="1334.40" cy="610.80" r="4.2" fill="#231f20"/>
<circle cx="1353.80" cy="616.40" r="4.2" fill="#231f20"/>
<circle cx="1348.20" cy="622.30" r="4.2" fill="#231f20"/>
<circle cx="1342.70" cy="663.00" r="4.2" fill="#231f20"/>
<text x="1149.32" y="796.40" font-size="27" fill="#231f20" textLength="120.70" lengthAdjust="spacingAndGlyphs">Switching</text>
<text x="1283.80" y="796.80" font-size="27" fill="#231f20" textLength="110.61" lengthAdjust="spacingAndGlyphs">Constant</text>
<text transform="translate(1078.50,715.90) rotate(-90)" x="-2.23" y="0" font-size="28" fill="#231f20" textLength="201.38" lengthAdjust="spacingAndGlyphs">Breakpoint Ratio</text>
<text x="328.63" y="905.40" font-size="36" font-weight="bold" stroke="#231f20" stroke-width="0.9" fill="#231f20" textLength="23.32" lengthAdjust="spacingAndGlyphs">g</text>
<text x="514.19" y="906.50" font-size="27" fill="#231f20" textLength="88.46" lengthAdjust="spacingAndGlyphs">Hunger</text>
<rect x="453.90" y="929.70" width="14.80" height="13.00" fill="#8cc63f"/>
<text x="477.20" y="943.70" font-size="28" fill="#231f20" textLength="84.25" lengthAdjust="spacingAndGlyphs">regular</text>
<rect x="590.20" y="930.30" width="14.30" height="12.40" fill="#006838"/>
<text x="609.76" y="943.70" font-size="28" fill="#231f20" textLength="99.11" lengthAdjust="spacingAndGlyphs">pre-exp.</text>
<path d="M425.80,954.80 L421.30,954.80 L421.30,1254.60" fill="none" stroke="#231f20" stroke-width="2.2"/>
<line x1="421.30" y1="954.80" x2="425.80" y2="954.80" stroke="#231f20" stroke-width="2.2" stroke-linecap="butt"/>
<line x1="421.30" y1="1014.30" x2="425.80" y2="1014.30" stroke="#231f20" stroke-width="2.2" stroke-linecap="butt"/>
<line x1="421.30" y1="1073.80" x2="425.80" y2="1073.80" stroke="#231f20" stroke-width="2.2" stroke-linecap="butt"/>
<line x1="421.30" y1="1133.70" x2="425.80" y2="1133.70" stroke="#231f20" stroke-width="2.2" stroke-linecap="butt"/>
<line x1="421.30" y1="1193.90" x2="425.80" y2="1193.90" stroke="#231f20" stroke-width="2.2" stroke-linecap="butt"/>
<line x1="421.30" y1="1253.60" x2="425.80" y2="1253.60" stroke="#231f20" stroke-width="2.2" stroke-linecap="butt"/>
<line x1="420.30" y1="1253.60" x2="701.70" y2="1253.60" stroke="#231f20" stroke-width="2.4" stroke-linecap="butt"/>
<text x="366.94" y="965.62" font-size="26.5" fill="#231f20" textLength="45.22" lengthAdjust="spacingAndGlyphs">250</text>
<text x="366.94" y="1025.82" font-size="26.5" fill="#231f20" textLength="45.22" lengthAdjust="spacingAndGlyphs">200</text>
<text x="369.35" y="1085.12" font-size="26.5" fill="#231f20" textLength="42.75" lengthAdjust="spacingAndGlyphs">150</text>
<text x="366.95" y="1144.72" font-size="26.5" fill="#231f20" textLength="42.75" lengthAdjust="spacingAndGlyphs">100</text>
<text x="379.41" y="1203.62" font-size="26.5" fill="#231f20" textLength="30.36" lengthAdjust="spacingAndGlyphs">50</text>
<text x="395.18" y="1261.02" font-size="26.5" fill="#231f20" textLength="14.54" lengthAdjust="spacingAndGlyphs">0</text>
<line x1="520.40" y1="981.80" x2="640.40" y2="981.80" stroke="#231f20" stroke-width="2" stroke-linecap="round"/>
<line x1="470.60" y1="1017.60" x2="580.90" y2="1017.60" stroke="#231f20" stroke-width="2" stroke-linecap="round"/>
<line x1="479.00" y1="1049.10" x2="522.30" y2="1049.10" stroke="#231f20" stroke-width="2" stroke-linecap="round"/>
<line x1="597.60" y1="1027.90" x2="641.30" y2="1027.90" stroke="#231f20" stroke-width="2" stroke-linecap="round"/>
<text x="565.71" y="978.00" font-size="22" fill="#231f20" textLength="25.36" lengthAdjust="spacingAndGlyphs">ns</text>
<text x="510.78" y="1011.50" font-size="22" fill="#231f20" textLength="25.81" lengthAdjust="spacingAndGlyphs">ns</text>
<text x="489.38" y="1043.10" font-size="22" fill="#231f20" textLength="25.81" lengthAdjust="spacingAndGlyphs">ns</text>
<text x="609.43" y="1020.80" font-size="22" fill="#231f20" textLength="24.92" lengthAdjust="spacingAndGlyphs">ns</text>
<rect x="462.80" y="1136.10" width="36.30" height="7.10" fill="#a5cf63"/>
<rect x="507.20" y="1120.30" width="36.10" height="7.30" fill="#0f9d4a"/>
<rect x="576.40" y="1105.80" width="35.80" height="7.50" fill="#a5cf63"/>
<rect x="622.50" y="1071.00" width="35.80" height="7.50" fill="#0f9d4a"/>
<line x1="479.80" y1="1127.50" x2="479.80" y2="1151.80" stroke="#231f20" stroke-width="2.3" stroke-linecap="butt"/>
<line x1="477.80" y1="1128.60" x2="481.80" y2="1128.60" stroke="#231f20" stroke-width="2.2" stroke-linecap="round"/>
<line x1="477.80" y1="1150.70" x2="481.80" y2="1150.70" stroke="#231f20" stroke-width="2.2" stroke-linecap="round"/>
<line x1="525.10" y1="1111.00" x2="525.10" y2="1139.60" stroke="#231f20" stroke-width="2.3" stroke-linecap="butt"/>
<line x1="523.10" y1="1112.10" x2="527.10" y2="1112.10" stroke="#231f20" stroke-width="2.2" stroke-linecap="round"/>
<line x1="523.10" y1="1138.50" x2="527.10" y2="1138.50" stroke="#231f20" stroke-width="2.2" stroke-linecap="round"/>
<line x1="595.60" y1="1089.20" x2="595.60" y2="1130.50" stroke="#231f20" stroke-width="2.3" stroke-linecap="butt"/>
<line x1="593.60" y1="1090.30" x2="597.60" y2="1090.30" stroke="#231f20" stroke-width="2.2" stroke-linecap="round"/>
<line x1="593.60" y1="1129.40" x2="597.60" y2="1129.40" stroke="#231f20" stroke-width="2.2" stroke-linecap="round"/>
<line x1="641.10" y1="1045.20" x2="641.10" y2="1099.10" stroke="#231f20" stroke-width="2.3" stroke-linecap="butt"/>
<line x1="639.10" y1="1046.30" x2="643.10" y2="1046.30" stroke="#231f20" stroke-width="2.2" stroke-linecap="round"/>
<line x1="639.10" y1="1098.00" x2="643.10" y2="1098.00" stroke="#231f20" stroke-width="2.2" stroke-linecap="round"/>
<circle cx="479.40" cy="1074.90" r="4.2" fill="#231f20"/>
<circle cx="469.60" cy="1139.60" r="4.2" fill="#231f20"/>
<circle cx="494.60" cy="1139.60" r="4.2" fill="#231f20"/>
<circle cx="487.80" cy="1147.70" r="4.2" fill="#231f20"/>
<circle cx="465.50" cy="1152.20" r="4.2" fill="#231f20"/>
<circle cx="474.10" cy="1156.60" r="4.2" fill="#231f20"/>
<circle cx="479.40" cy="1177.60" r="4.2" fill="#231f20"/>
<circle cx="519.70" cy="1085.10" r="4.2" fill="#231f20"/>
<circle cx="528.30" cy="1091.70" r="4.2" fill="#231f20"/>
<circle cx="520.60" cy="1102.90" r="4.2" fill="#231f20"/>
<circle cx="533.50" cy="1109.60" r="4.2" fill="#231f20"/>
<circle cx="531.70" cy="1143.60" r="4.2" fill="#231f20"/>
<circle cx="525.10" cy="1164.70" r="4.2" fill="#231f20"/>
<circle cx="525.10" cy="1182.20" r="4.2" fill="#231f20"/>
<circle cx="596.20" cy="1036.70" r="4.2" fill="#231f20"/>
<circle cx="596.20" cy="1066.40" r="4.2" fill="#231f20"/>
<circle cx="596.20" cy="1078.90" r="4.2" fill="#231f20"/>
<circle cx="584.50" cy="1102.40" r="4.2" fill="#231f20"/>
<circle cx="605.10" cy="1124.00" r="4.2" fill="#231f20"/>
<circle cx="592.20" cy="1174.60" r="4.2" fill="#231f20"/>
<circle cx="601.70" cy="1181.60" r="4.2" fill="#231f20"/>
<circle cx="640.90" cy="972.10" r="4.2" fill="#231f20"/>
<circle cx="640.90" cy="1012.40" r="4.2" fill="#231f20"/>
<circle cx="649.60" cy="1051.20" r="4.2" fill="#231f20"/>
<circle cx="632.60" cy="1066.40" r="4.2" fill="#231f20"/>
<circle cx="649.20" cy="1102.40" r="4.2" fill="#231f20"/>
<circle cx="641.10" cy="1109.50" r="4.2" fill="#231f20"/>
<circle cx="641.10" cy="1187.70" r="4.2" fill="#231f20"/>
<text x="440.50" y="1283.70" font-size="27" fill="#231f20" textLength="122.24" lengthAdjust="spacingAndGlyphs">Switching</text>
<text x="576.01" y="1283.70" font-size="27" fill="#231f20" textLength="109.39" lengthAdjust="spacingAndGlyphs">Constant</text>
<text transform="translate(359.40,1206.60) rotate(-90)" x="-2.23" y="0" font-size="28" fill="#231f20" textLength="201.38" lengthAdjust="spacingAndGlyphs">Breakpoint Ratio</text>
<text x="956.01" y="906.50" font-size="27" fill="#231f20" textLength="65.48" lengthAdjust="spacingAndGlyphs">Thirst</text>
<rect x="866.40" y="924.10" width="14.00" height="12.10" fill="#29abe2"/>
<text x="889.73" y="936.20" font-size="28" fill="#231f20" textLength="83.12" lengthAdjust="spacingAndGlyphs">regular</text>
<rect x="999.40" y="924.10" width="14.50" height="12.10" fill="#2e3192"/>
<text x="1021.44" y="936.20" font-size="28" fill="#231f20" textLength="100.05" lengthAdjust="spacingAndGlyphs">pre-exp.</text>
<path d="M838.80,953.90 L834.30,953.90 L834.30,1253.40" fill="none" stroke="#231f20" stroke-width="2.2"/>
<line x1="834.30" y1="953.90" x2="838.80" y2="953.90" stroke="#231f20" stroke-width="2.2" stroke-linecap="butt"/>
<line x1="834.30" y1="1013.40" x2="838.80" y2="1013.40" stroke="#231f20" stroke-width="2.2" stroke-linecap="butt"/>
<line x1="834.30" y1="1072.90" x2="838.80" y2="1072.90" stroke="#231f20" stroke-width="2.2" stroke-linecap="butt"/>
<line x1="834.30" y1="1132.50" x2="838.80" y2="1132.50" stroke="#231f20" stroke-width="2.2" stroke-linecap="butt"/>
<line x1="834.30" y1="1192.40" x2="838.80" y2="1192.40" stroke="#231f20" stroke-width="2.2" stroke-linecap="butt"/>
<line x1="834.30" y1="1252.40" x2="838.80" y2="1252.40" stroke="#231f20" stroke-width="2.2" stroke-linecap="butt"/>
<line x1="833.30" y1="1252.40" x2="1142.80" y2="1252.40" stroke="#231f20" stroke-width="2.4" stroke-linecap="butt"/>
<text x="777.64" y="965.82" font-size="26.5" fill="#231f20" textLength="45.22" lengthAdjust="spacingAndGlyphs">250</text>
<text x="777.64" y="1025.12" font-size="26.5" fill="#231f20" textLength="45.22" lengthAdjust="spacingAndGlyphs">200</text>
<text x="780.05" y="1085.12" font-size="26.5" fill="#231f20" textLength="42.75" lengthAdjust="spacingAndGlyphs">150</text>
<text x="780.85" y="1144.12" font-size="26.5" fill="#231f20" textLength="42.75" lengthAdjust="spacingAndGlyphs">100</text>
<text x="793.31" y="1203.12" font-size="26.5" fill="#231f20" textLength="30.36" lengthAdjust="spacingAndGlyphs">50</text>
<text x="807.13" y="1261.02" font-size="26.5" fill="#231f20" textLength="16.64" lengthAdjust="spacingAndGlyphs">0</text>
<line x1="889.70" y1="977.50" x2="1000.90" y2="977.50" stroke="#231f20" stroke-width="2" stroke-linecap="round"/>
<line x1="948.20" y1="1008.50" x2="1068.20" y2="1008.50" stroke="#231f20" stroke-width="2" stroke-linecap="round"/>
<line x1="896.70" y1="1048.70" x2="940.80" y2="1048.70" stroke="#231f20" stroke-width="2" stroke-linecap="round"/>
<line x1="1028.80" y1="1046.80" x2="1072.50" y2="1046.80" stroke="#231f20" stroke-width="2" stroke-linecap="round"/>
<text x="929.88" y="971.50" font-size="22" fill="#231f20" textLength="25.69" lengthAdjust="spacingAndGlyphs">ns</text>
<text x="997.81" y="1002.20" font-size="22" fill="#231f20" textLength="25.36" lengthAdjust="spacingAndGlyphs">ns</text>
<text x="908.55" y="1042.20" font-size="22" fill="#231f20" textLength="24.70" lengthAdjust="spacingAndGlyphs">ns</text>
<text x="1040.22" y="1041.30" font-size="22" fill="#231f20" textLength="25.14" lengthAdjust="spacingAndGlyphs">ns</text>
<rect x="880.80" y="1119.40" width="35.80" height="7.70" fill="#6ccadb"/>
<rect x="931.40" y="1083.80" width="35.80" height="8.10" fill="#273a94"/>
<rect x="1010.70" y="1107.80" width="36.40" height="7.70" fill="#6ccadb"/>
<rect x="1057.20" y="1095.70" width="36.00" height="8.10" fill="#273a94"/>
<line x1="897.40" y1="1105.60" x2="897.40" y2="1140.50" stroke="#231f20" stroke-width="2.3" stroke-linecap="butt"/>
<line x1="895.40" y1="1106.70" x2="899.40" y2="1106.70" stroke="#231f20" stroke-width="2.2" stroke-linecap="round"/>
<line x1="895.40" y1="1139.40" x2="899.40" y2="1139.40" stroke="#231f20" stroke-width="2.2" stroke-linecap="round"/>
<line x1="947.90" y1="1063.00" x2="947.90" y2="1112.30" stroke="#231f20" stroke-width="2.3" stroke-linecap="butt"/>
<line x1="945.90" y1="1064.10" x2="949.90" y2="1064.10" stroke="#231f20" stroke-width="2.2" stroke-linecap="round"/>
<line x1="945.90" y1="1111.20" x2="949.90" y2="1111.20" stroke="#231f20" stroke-width="2.2" stroke-linecap="round"/>
<line x1="1027.90" y1="1098.70" x2="1027.90" y2="1127.00" stroke="#231f20" stroke-width="2.3" stroke-linecap="butt"/>
<line x1="1025.90" y1="1099.80" x2="1029.90" y2="1099.80" stroke="#231f20" stroke-width="2.2" stroke-linecap="round"/>
<line x1="1025.90" y1="1125.90" x2="1029.90" y2="1125.90" stroke="#231f20" stroke-width="2.2" stroke-linecap="round"/>
<line x1="1074.00" y1="1087.20" x2="1074.00" y2="1111.90" stroke="#231f20" stroke-width="2.3" stroke-linecap="butt"/>
<line x1="1072.00" y1="1088.30" x2="1076.00" y2="1088.30" stroke="#231f20" stroke-width="2.2" stroke-linecap="round"/>
<line x1="1072.00" y1="1110.80" x2="1076.00" y2="1110.80" stroke="#231f20" stroke-width="2.2" stroke-linecap="round"/>
<circle cx="897.40" cy="1066.80" r="4.2" fill="#231f20"/>
<circle cx="893.30" cy="1098.50" r="4.2" fill="#231f20"/>
<circle cx="903.20" cy="1098.50" r="4.2" fill="#231f20"/>
<circle cx="888.50" cy="1108.30" r="4.2" fill="#231f20"/>
<circle cx="897.40" cy="1158.40" r="4.2" fill="#231f20"/>
<circle cx="897.40" cy="1171.00" r="4.2" fill="#231f20"/>
<circle cx="897.40" cy="1188.00" r="4.2" fill="#231f20"/>
<circle cx="947.80" cy="992.90" r="4.2" fill="#231f20"/>
<circle cx="948.20" cy="1032.50" r="4.2" fill="#231f20"/>
<circle cx="935.40" cy="1085.60" r="4.2" fill="#231f20"/>
<circle cx="942.20" cy="1094.40" r="4.2" fill="#231f20"/>
<circle cx="956.50" cy="1094.40" r="4.2" fill="#231f20"/>
<circle cx="947.90" cy="1152.20" r="4.2" fill="#231f20"/>
<circle cx="947.90" cy="1183.80" r="4.2" fill="#231f20"/>
<circle cx="1027.90" cy="1055.70" r="4.2" fill="#231f20"/>
<circle cx="1027.90" cy="1078.90" r="4.2" fill="#231f20"/>
<circle cx="1019.80" cy="1111.50" r="4.2" fill="#231f20"/>
<circle cx="1017.40" cy="1127.70" r="4.2" fill="#231f20"/>
<circle cx="1037.20" cy="1127.70" r="4.2" fill="#231f20"/>
<circle cx="1027.90" cy="1143.80" r="4.2" fill="#231f20"/>
<circle cx="1027.90" cy="1165.10" r="4.2" fill="#231f20"/>
<circle cx="1073.60" cy="1055.70" r="4.2" fill="#231f20"/>
<circle cx="1073.60" cy="1074.50" r="4.2" fill="#231f20"/>
<circle cx="1084.50" cy="1088.00" r="4.2" fill="#231f20"/>
<circle cx="1067.50" cy="1103.80" r="4.2" fill="#231f20"/>
<circle cx="1088.20" cy="1110.90" r="4.2" fill="#231f20"/>
<circle cx="1080.10" cy="1115.90" r="4.2" fill="#231f20"/>
<circle cx="1073.60" cy="1158.40" r="4.2" fill="#231f20"/>
<text x="870.52" y="1283.70" font-size="27" fill="#231f20" textLength="120.39" lengthAdjust="spacingAndGlyphs">Switching</text>
<text x="1003.91" y="1283.70" font-size="27" fill="#231f20" textLength="109.69" lengthAdjust="spacingAndGlyphs">Constant</text>
<text transform="translate(771.20,1206.60) rotate(-90)" x="-2.23" y="0" font-size="28" fill="#231f20" textLength="201.38" lengthAdjust="spacingAndGlyphs">Breakpoint Ratio</text>
</svg>
</body></html>
